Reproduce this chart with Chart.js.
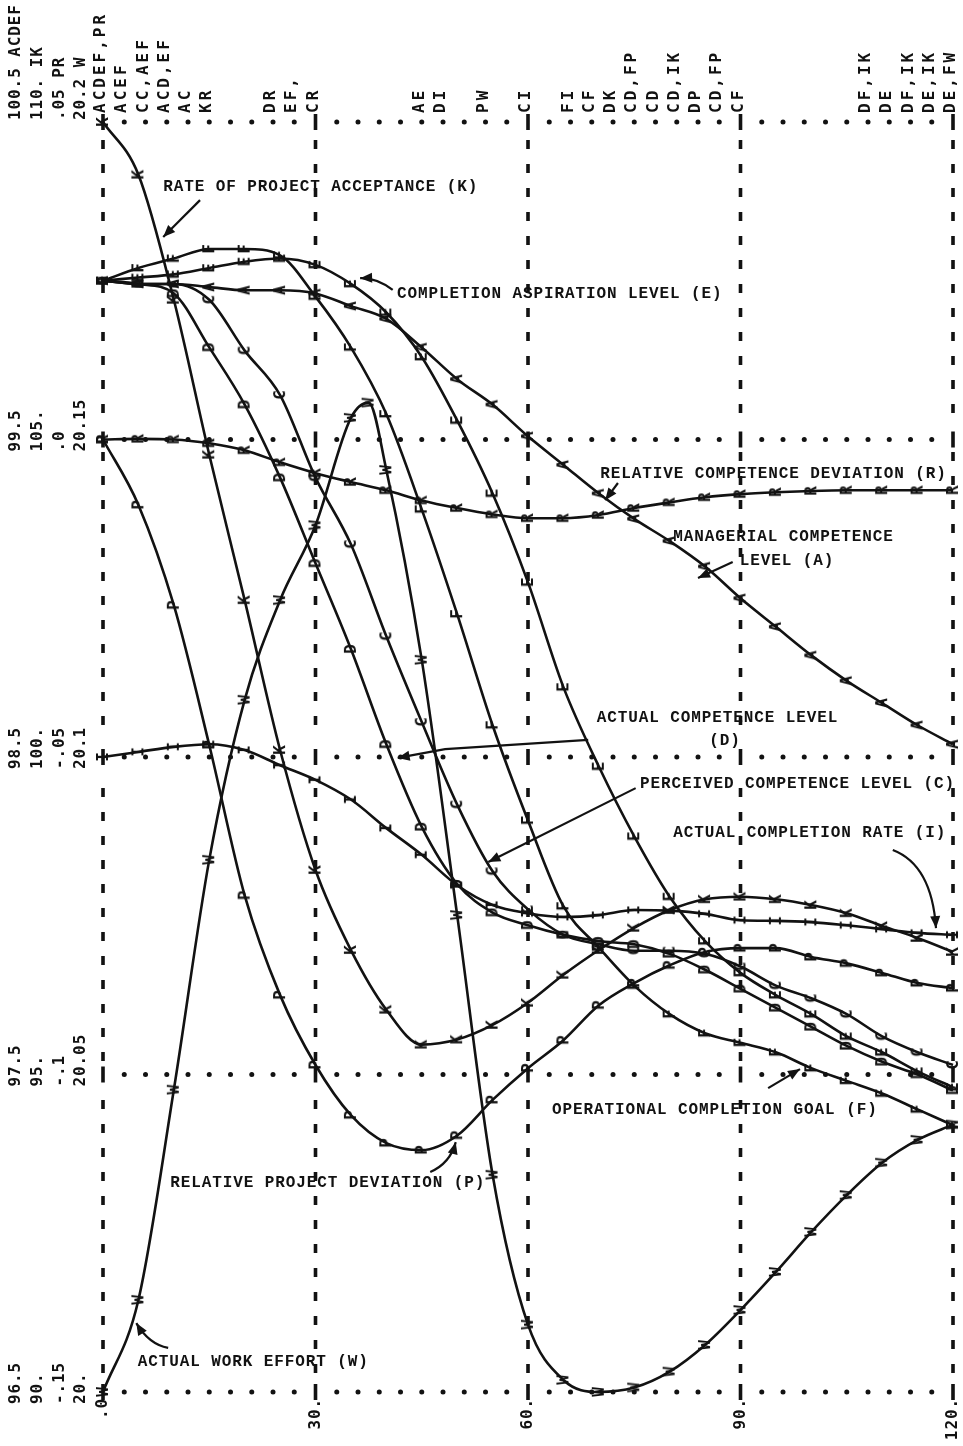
<!DOCTYPE html>
<html>
<head>
<meta charset="utf-8">
<script src="https://cdn.jsdelivr.net/npm/chart.js@4.4.1/dist/chart.umd.min.js"></script>
<style>
  html, body { margin: 0; padding: 0; background: #fff; }
  #wrap { width: 963px; height: 1446px; position: relative; }
</style>
</head>
<body>
<div id="wrap"><canvas id="myChart"></canvas></div>
<script>
// time axis (months) and the plotted series, each in its own units
const times = [0, 5, 10, 15, 20, 25, 30, 35, 40, 45, 50, 55, 60, 65, 70, 75, 80, 85, 90, 95, 100, 105, 110, 115, 120];
const wTimes = [0, 5, 10, 15, 20, 25, 30, 35, 37.5, 40, 45, 50, 55, 60, 65, 70, 75, 80, 85, 90, 95, 100, 105, 110, 115, 120];

const competenceA = [100.00, 99.99, 99.99, 99.98, 99.97, 99.97, 99.96, 99.92, 99.88, 99.79, 99.69, 99.61, 99.51, 99.42, 99.33, 99.25, 99.18, 99.10, 99.00, 98.91, 98.82, 98.74, 98.67, 98.60, 98.54];
const perceivedC = [100.00, 99.99, 99.99, 99.94, 99.78, 99.64, 99.38, 99.17, 98.88, 98.61, 98.35, 98.14, 98.02, 97.94, 97.91, 97.89, 97.89, 97.88, 97.84, 97.78, 97.74, 97.69, 97.62, 97.57, 97.53];
const actualD = [100.00, 99.99, 99.96, 99.79, 99.61, 99.38, 99.11, 98.84, 98.54, 98.28, 98.10, 98.01, 97.97, 97.94, 97.92, 97.91, 97.88, 97.83, 97.77, 97.71, 97.65, 97.59, 97.54, 97.50, 97.45];
const aspirationE = [100.00, 100.01, 100.02, 100.04, 100.06, 100.07, 100.05, 99.99, 99.90, 99.76, 99.56, 99.33, 99.05, 98.72, 98.47, 98.25, 98.06, 97.92, 97.82, 97.75, 97.69, 97.62, 97.57, 97.51, 97.46];
const goalF = [100.00, 100.04, 100.07, 100.10, 100.10, 100.08, 99.95, 99.79, 99.58, 99.28, 98.95, 98.60, 98.30, 98.03, 97.90, 97.78, 97.69, 97.63, 97.60, 97.57, 97.52, 97.48, 97.44, 97.39, 97.34];
const completionI = [100.00, 100.08, 100.16, 100.20, 100.11, 99.87, 99.64, 99.33, 98.88, 98.46, 97.98, 97.67, 97.54, 97.48, 97.51, 97.59, 97.58, 97.53, 97.43, 97.42, 97.40, 97.35, 97.29, 97.23, 97.20];
const acceptanceK = [110.00, 109.17, 107.20, 104.76, 102.47, 100.11, 98.22, 96.96, 96.02, 95.47, 95.55, 95.78, 96.13, 96.57, 96.96, 97.31, 97.59, 97.76, 97.80, 97.76, 97.67, 97.54, 97.34, 97.15, 96.93];
const projectP = [0.0, -0.0103, -0.0261, -0.0481, -0.0718, -0.0875, -0.0985, -0.1064, -0.1108, -0.1119, -0.1096, -0.1040, -0.0990, -0.0946, -0.0891, -0.0856, -0.0828, -0.0807, -0.0801, -0.0801, -0.0815, -0.0825, -0.0840, -0.0856, -0.0864];
const competenceR = [0.0, 0.0001, 0.0, -0.0006, -0.0017, -0.0036, -0.0053, -0.0067, -0.0080, -0.0096, -0.0108, -0.0118, -0.0124, -0.0124, -0.0119, -0.0108, -0.0099, -0.0091, -0.0086, -0.0083, -0.0081, -0.0080, -0.0080, -0.0080, -0.0080];
const workW = [20.0, 20.0145, 20.0476, 20.0838, 20.109, 20.1247, 20.1365, 20.1534, 20.1558, 20.1452, 20.1153, 20.0751, 20.0342, 20.0106, 20.0019, 20.0, 20.0007, 20.0032, 20.0074, 20.0129, 20.0189, 20.0252, 20.031, 20.0361, 20.0397, 20.0421];

// the four value scales printed on the left, bottom to top
const gridLevels = [0, 1, 2, 3, 4];
const acdefTicks = ['96.5', '97.5', '98.5', '99.5', '100.5 ACDEF'];
const ikTicks = ['90.', '95.', '100.', '105.', '110. IK'];
const prTicks = ['-.15', '-.1', '-.05', '.0', '.05 PR'];
const wTicks = ['20.', '20.05', '20.1', '20.15', '20.2 W'];
const timeTicks = [0, 30, 60, 90, 120];
const timeTickLabels = ['.0', '30.', '60.', '90.', '120.'];

// overlap notes printed above the plot
const overlapTimes = [0, 3, 6, 9, 12, 15, 24, 27, 30, 45, 48, 54, 60, 66, 69, 72, 75, 78, 81, 84, 87, 90, 108, 111, 114, 117, 120];
const overlapLabels = ['ACDEF,PR', 'ACEF', 'CC,AEF', 'ACD,EF', 'AC', 'KR', 'DR', 'EF,', 'CR', 'AE', 'DI', 'PW', 'CI', 'FI', 'CF', 'DK', 'CD,FP', 'CD', 'CD,IK', 'DP', 'CD,FP', 'CF', 'DF,IK', 'DE', 'DF,IK', 'DE,IK', 'DE,FW'];

const INK = '#121212';
const acdefRange = [96.5, 100.5];
const ikRange = [90, 110];
const prRange = [-0.15, 0.05];
const wRange = [20, 20.2];

// curve labels, placed in plot units (time, grid level)
const noteTexts = [
  ['RATE OF PROJECT ACCEPTANCE (K)', 8.5, 3.795],
  ['COMPLETION ASPIRATION LEVEL (E)', 41.5, 3.458],
  ['RELATIVE COMPETENCE DEVIATION (R)', 70.2, 2.891],
  ['MANAGERIAL COMPETENCE', 80.5, 2.693],
  ['LEVEL (A)', 89.9, 2.617],
  ['ACTUAL COMPETENCE LEVEL', 69.7, 2.123],
  ['(D)', 85.6, 2.050],
  ['PERCEIVED COMPETENCE LEVEL (C)', 75.8, 1.915],
  ['ACTUAL COMPLETION RATE (I)', 80.5, 1.761],
  ['OPERATIONAL COMPLETION GOAL (F)', 63.4, 0.888],
  ['RELATIVE PROJECT DEVIATION (P)', 9.5, 0.658],
  ['ACTUAL WORK EFFORT (W)', 4.9, 0.095]
];
const noteArrows = [
  { pts: [[13.7, 3.754], [8.5, 3.638]] },
  { pts: [[40.9, 3.471], [38.6, 3.51], [36.3, 3.508]], curve: true },
  { pts: [[72.7, 2.863], [70.9, 2.809]] },
  { pts: [[88.9, 2.614], [84.0, 2.564]] },
  { pts: [[68.5, 2.054], [48.3, 2.025], [41.6, 1.997]] },
  { pts: [[75.2, 1.902], [54.4, 1.669]] },
  { pts: [[111.5, 1.707], [117.0, 1.66], [117.6, 1.461]], curve: true },
  { pts: [[93.9, 0.957], [98.4, 1.017]] },
  { pts: [[46.2, 0.693], [49.0, 0.72], [49.8, 0.787]], curve: true },
  { pts: [[9.2, 0.139], [6.5, 0.15], [4.7, 0.217]], curve: true }
];

function toGrid(value, range) {
  return (value - range[0]) / (range[1] - range[0]) * 4;
}

function letterMark(ch) {
  const c = document.createElement('canvas');
  c.width = 18;
  c.height = 18;
  const g = c.getContext('2d');
  g.fillStyle = INK;
  g.font = 'bold 16px "DejaVu Sans Mono"';
  g.textAlign = 'center';
  g.textBaseline = 'middle';
  g.fillText(ch, 9, 10);
  return c;
}

const seriesList = [
  { letter: 'A', t: times, values: competenceA, range: acdefRange },
  { letter: 'C', t: times, values: perceivedC, range: acdefRange },
  { letter: 'D', t: times, values: actualD, range: acdefRange },
  { letter: 'E', t: times, values: aspirationE, range: acdefRange },
  { letter: 'F', t: times, values: goalF, range: acdefRange },
  { letter: 'I', t: times, values: completionI, range: ikRange },
  { letter: 'K', t: times, values: acceptanceK, range: ikRange },
  { letter: 'P', t: times, values: projectP, range: prRange },
  { letter: 'R', t: times, values: competenceR, range: prRange },
  { letter: 'W', t: wTimes, values: workW, range: wRange }
];

function upText(ctx, str, x, y, align) {
  ctx.save();
  ctx.translate(x, y);
  ctx.rotate(-Math.PI / 2);
  ctx.textAlign = align;
  ctx.textBaseline = 'middle';
  ctx.fillText(str, 0, 0);
  ctx.restore();
}

function drawArrow(ctx, pts, curve) {
  ctx.beginPath();
  ctx.moveTo(pts[0][0], pts[0][1]);
  if (curve && pts.length === 3) {
    ctx.quadraticCurveTo(pts[1][0], pts[1][1], pts[2][0], pts[2][1]);
  } else {
    for (let i = 1; i < pts.length; i++) ctx.lineTo(pts[i][0], pts[i][1]);
  }
  ctx.stroke();
  const end = pts[pts.length - 1];
  const prev = pts[pts.length - 2];
  const ang = Math.atan2(end[1] - prev[1], end[0] - prev[0]);
  ctx.beginPath();
  ctx.moveTo(end[0], end[1]);
  ctx.lineTo(end[0] - 12 * Math.cos(ang) + 5 * Math.sin(ang), end[1] - 12 * Math.sin(ang) - 5 * Math.cos(ang));
  ctx.lineTo(end[0] - 12 * Math.cos(ang) - 5 * Math.sin(ang), end[1] - 12 * Math.sin(ang) + 5 * Math.cos(ang));
  ctx.closePath();
  ctx.fill();
}

const printerPlot = {
  id: 'printerPlot',
  beforeDatasetsDraw(chart) {
    const { ctx, chartArea: area, scales: { x, y } } = chart;
    ctx.save();
    ctx.fillStyle = INK;
    const step = (area.right - area.left) / 40;
    const levelPx = gridLevels.map(l => y.getPixelForValue(l));

    levelPx.forEach(py => {
      for (let i = 0; i <= 40; i++) {
        const px = area.left + i * step;
        if (i % 10 === 0) {
          ctx.fillRect(px - 1.8, py - 8, 3.6, 16);
        } else {
          ctx.beginPath();
          ctx.arc(px, py, 2.5, 0, Math.PI * 2);
          ctx.fill();
        }
      }
    });

    timeTicks.forEach(t => {
      const px = x.getPixelForValue(t);
      for (let py = area.top + 18; py < area.bottom - 10; py += 24) {
        if (levelPx.some(l => Math.abs(l - py - 4.5) < 16)) continue;
        ctx.fillRect(px - 1.8, py, 3.6, 9);
      }
    });
    ctx.restore();
  },
  afterDraw(chart) {
    const { ctx, chartArea: area, scales: { x, y } } = chart;
    ctx.save();
    ctx.fillStyle = INK;
    ctx.strokeStyle = INK;

    // left value scales
    ctx.font = 'bold 16px "DejaVu Sans Mono"';
    ctx.letterSpacing = '0.9px';
    const columns = [[acdefTicks, -87], [ikTicks, -65], [prTicks, -43], [wTicks, -22]];
    gridLevels.forEach((level, i) => {
      const py = y.getPixelForValue(level) + (level === 4 ? -2 : 12);
      columns.forEach(([labels, dx]) => upText(ctx, labels[i], area.left + dx, py, 'left'));
    });

    // time axis
    timeTicks.forEach((t, i) => {
      upText(ctx, timeTickLabels[i], x.getPixelForValue(t), area.bottom + 6, 'right');
    });

    // overlap notes above the frame
    ctx.font = 'bold 16px "DejaVu Sans Mono"';
    ctx.letterSpacing = '3px';
    overlapTimes.forEach((t, i) => {
      upText(ctx, overlapLabels[i], x.getPixelForValue(t) - 2, area.top - 9, 'left');
    });

    // curve labels and arrows
    ctx.font = 'bold 16px "Liberation Mono"';
    ctx.letterSpacing = '0.9px';
    ctx.textAlign = 'left';
    ctx.textBaseline = 'middle';
    noteTexts.forEach(([text, t, level]) => {
      ctx.fillText(text, x.getPixelForValue(t), y.getPixelForValue(level));
    });
    ctx.lineWidth = 2.2;
    noteArrows.forEach(a => {
      const pts = a.pts.map(([t, level]) => [x.getPixelForValue(t), y.getPixelForValue(level)]);
      drawArrow(ctx, pts, a.curve);
    });
    ctx.restore();
  }
};

const datasets = seriesList.map(s => ({
  label: s.letter,
  data: s.t.map((t, i) => ({ x: t, y: toGrid(s.values[i], s.range) })),
  borderColor: INK,
  borderWidth: 2.6,
  fill: false,
  cubicInterpolationMode: 'monotone',
  pointStyle: letterMark(s.letter),
  pointRotation: -90,
  pointRadius: 6,
  clip: false
}));

const ctx = document.getElementById('myChart');
const myChart = new Chart(ctx, {
  type: 'line',
  data: { datasets },
  options: {
    responsive: true,
    maintainAspectRatio: false,
    animation: false,
    layout: { padding: { left: 103, right: 10, top: 122, bottom: 54 } },
    scales: {
      x: { type: 'linear', min: 0, max: 120, display: false },
      y: { type: 'linear', min: 0, max: 4, display: false }
    },
    plugins: {
      legend: { display: false },
      tooltip: { enabled: false }
    }
  },
  plugins: [printerPlot]
});
</script>
</body>
</html>
